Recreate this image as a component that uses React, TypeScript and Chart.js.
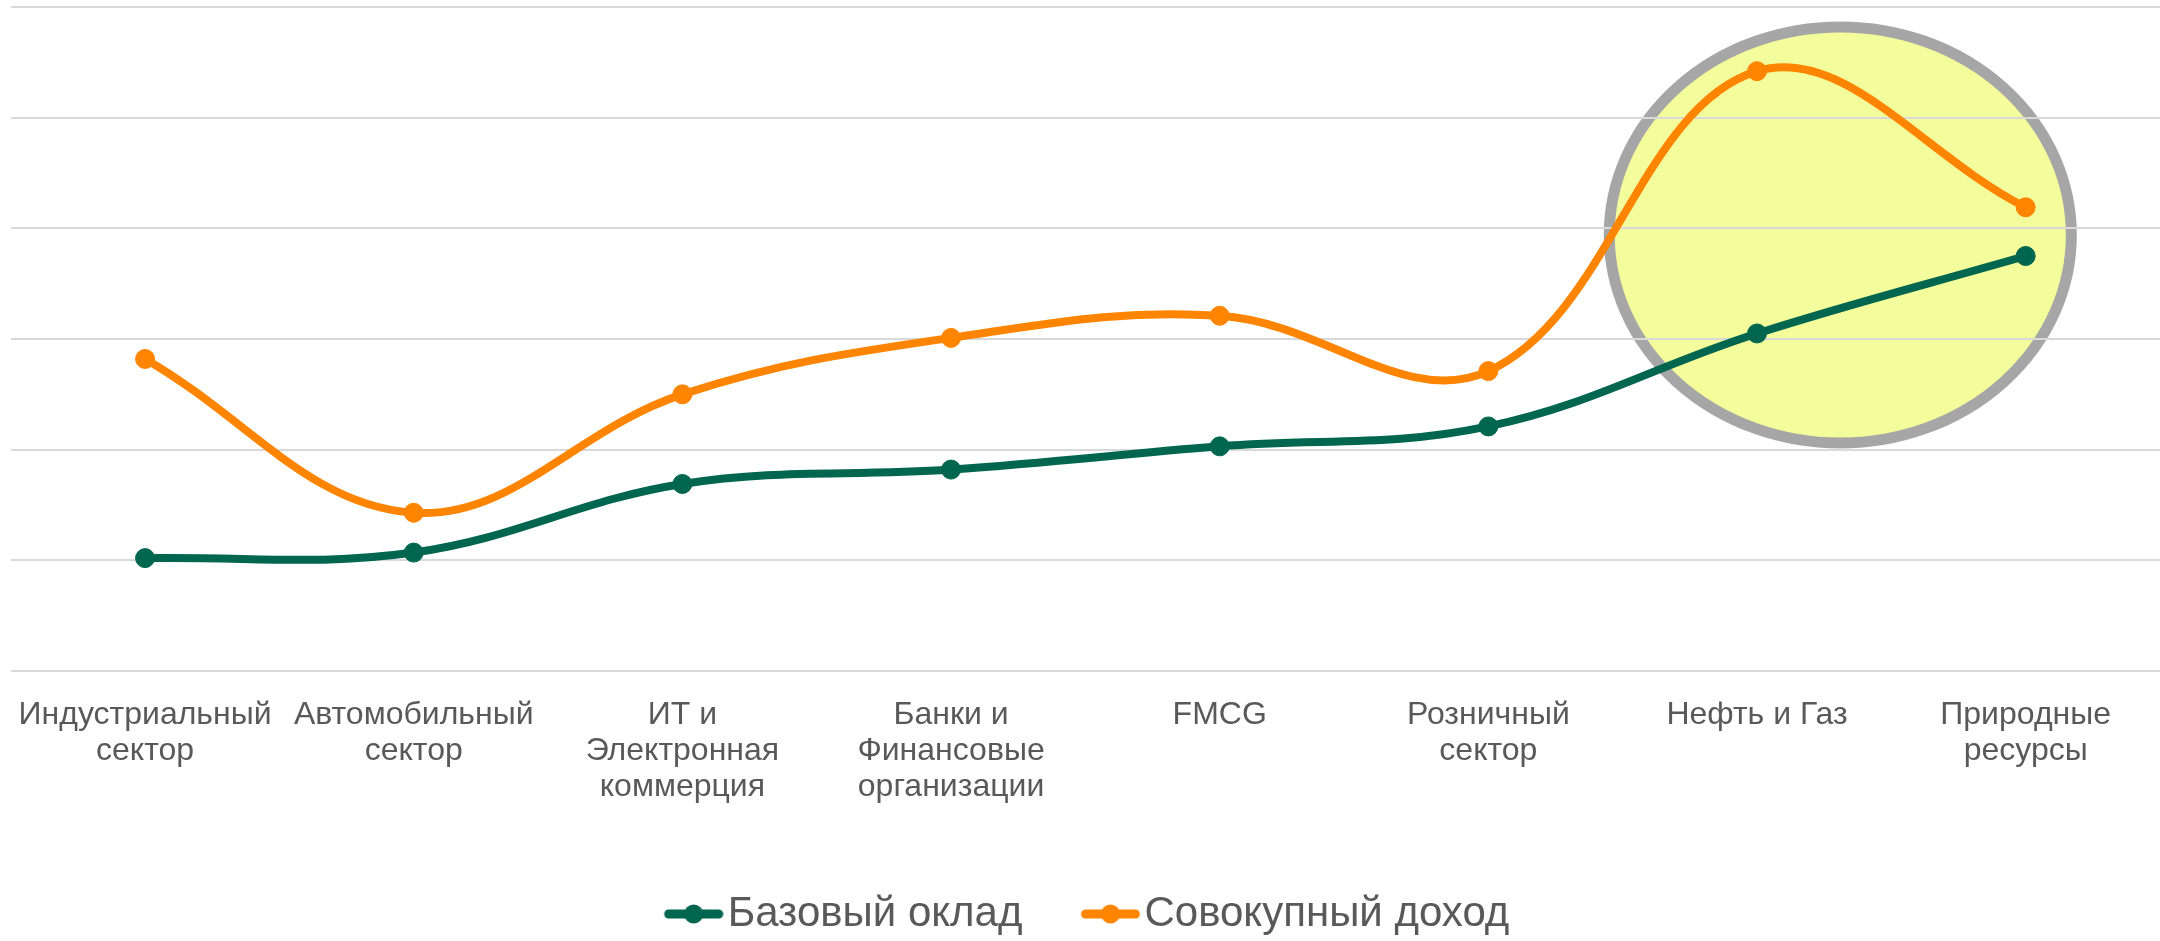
import React, { useEffect, useRef } from "react";
import { Chart, registerables } from "chart.js";

Chart.register(...registerables);

// ---- data ----
const CATEGORIES: (string | string[])[] = [
  ["Индустриальный", "сектор"],
  ["Автомобильный", "сектор"],
  ["ИТ и", "Электронная", "коммерция"],
  ["Банки и", "Финансовые", "организации"],
  "FMCG",
  ["Розничный", "сектор"],
  "Нефть и Газ",
  ["Природные", "ресурсы"],
];
const SERIES_NAMES = ["Базовый оклад", "Совокупный доход"];
const BASE_SALARY = [1.02, 1.07, 1.69, 1.82, 2.03, 2.21, 3.05, 3.75];
const TOTAL_INCOME = [2.82, 1.43, 2.5, 3.01, 3.21, 2.71, 5.42, 4.19];
const Y_MIN = 0;
const Y_MAX = 6;
const Y_STEP = 1;

// highlight ellipse (in data units: category index / value)
const HIGHLIGHT_X = 6.31;
const HIGHLIGHT_Y = 3.94;
const HIGHLIGHT_RX = 0.86;
const HIGHLIGHT_RY = 1.88;

// ---- styles ----
const COLORS = ["#00664F", "#FF8500"];
const TEXT_COLOR = "#595959";
const FONT = "'Liberation Sans', Arial, sans-serif";
const LEGEND_FONT_SIZE = 42;
const LEGEND_BOX = 47;
const LEGEND_PADDING = 54;

function legendImage(color: string): HTMLCanvasElement {
  // marker (60px) sits at the right end of a wider transparent canvas
  const w = LEGEND_BOX + 34;
  const c = document.createElement("canvas");
  c.width = w;
  c.height = 22;
  const g = c.getContext("2d")!;
  const x0 = w - 60;
  g.strokeStyle = color;
  g.lineWidth = 9;
  g.lineCap = "round";
  g.beginPath();
  g.moveTo(x0 + 5, 11);
  g.lineTo(x0 + 55, 11);
  g.stroke();
  g.fillStyle = color;
  g.beginPath();
  g.arc(x0 + 30, 11, 9.5, 0, Math.PI * 2);
  g.fill();
  return c;
}

const highlightPlugin = {
  id: "highlightEllipse",
  beforeDraw(chart: any) {
    const x = chart.scales.x;
    const y = chart.scales.y;
    if (!x || !y) return;
    const cx = x.getPixelForValue(HIGHLIGHT_X);
    const cy = y.getPixelForValue(HIGHLIGHT_Y);
    const rx = Math.abs(x.getPixelForValue(HIGHLIGHT_X + HIGHLIGHT_RX) - cx);
    const ry = Math.abs(y.getPixelForValue(HIGHLIGHT_Y + HIGHLIGHT_RY) - cy);
    const ctx = chart.ctx;
    ctx.save();
    ctx.beginPath();
    ctx.ellipse(cx, cy, rx, ry, 0, 0, Math.PI * 2);
    ctx.fillStyle = "#F4FD9B";
    ctx.fill();
    ctx.lineWidth = 11;
    ctx.strokeStyle = "#A6A6A6";
    ctx.stroke();
    ctx.restore();
  },
};

export default function App() {
  const ref = useRef<HTMLCanvasElement>(null);

  useEffect(() => {
    if (!ref.current) return;
    const images = COLORS.map(legendImage);
    const ds = (i: number, data: number[]) => ({
      label: SERIES_NAMES[i],
      data,
      borderColor: COLORS[i],
      backgroundColor: COLORS[i],
      borderWidth: 8,
      pointRadius: 9.5,
      pointBorderWidth: 1,
      pointHoverRadius: 9.5,
      tension: 0.38,
      borderCapStyle: "round",
    });
    const chart = new Chart(ref.current, {
      type: "line",
      data: {
        labels: CATEGORIES,
        datasets: [ds(0, BASE_SALARY), ds(1, TOTAL_INCOME)],
      },
      options: {
        responsive: false,
        animation: false,
        layout: { autoPadding: false, padding: { top: 7, left: 9, right: 0, bottom: -4 } },
        scales: {
          x: {
            offset: true,
            grid: { display: false },
            border: { display: false },
            ticks: {
              autoSkip: false,
              maxRotation: 0,
              minRotation: 0,
              padding: 18,
              color: TEXT_COLOR,
              font: { family: FONT, size: 32, lineHeight: 1.125 },
            },
            afterFit: (scale: any) => {
              scale.height = 168;
            },
          },
          y: {
            min: Y_MIN,
            max: Y_MAX,
            ticks: { display: false, stepSize: Y_STEP },
            grid: { color: "#D9D9D9", lineWidth: 2, drawTicks: false },
            border: { display: false },
          },
        },
        plugins: {
          tooltip: { enabled: false },
          legend: {
            position: "bottom",
            labels: {
              usePointStyle: true,
              pointStyleWidth: LEGEND_BOX,
              padding: LEGEND_PADDING,
              color: TEXT_COLOR,
              font: { family: FONT, size: LEGEND_FONT_SIZE },
              generateLabels: (c: any) => {
                const items = (Chart.defaults.plugins.legend.labels as any).generateLabels(c);
                items.forEach((it: any, i: number) => {
                  it.pointStyle = images[i];
                });
                return items;
              },
            },
          },
        },
      } as any,
      plugins: [highlightPlugin],
    });
    return () => chart.destroy();
  }, []);

  return (
    <div style={{ position: "absolute", left: 0, top: 0, width: 2160, height: 941, background: "#fff" }}>
      <canvas ref={ref} width={2160} height={941} style={{ display: "block" }} />
    </div>
  );
}
